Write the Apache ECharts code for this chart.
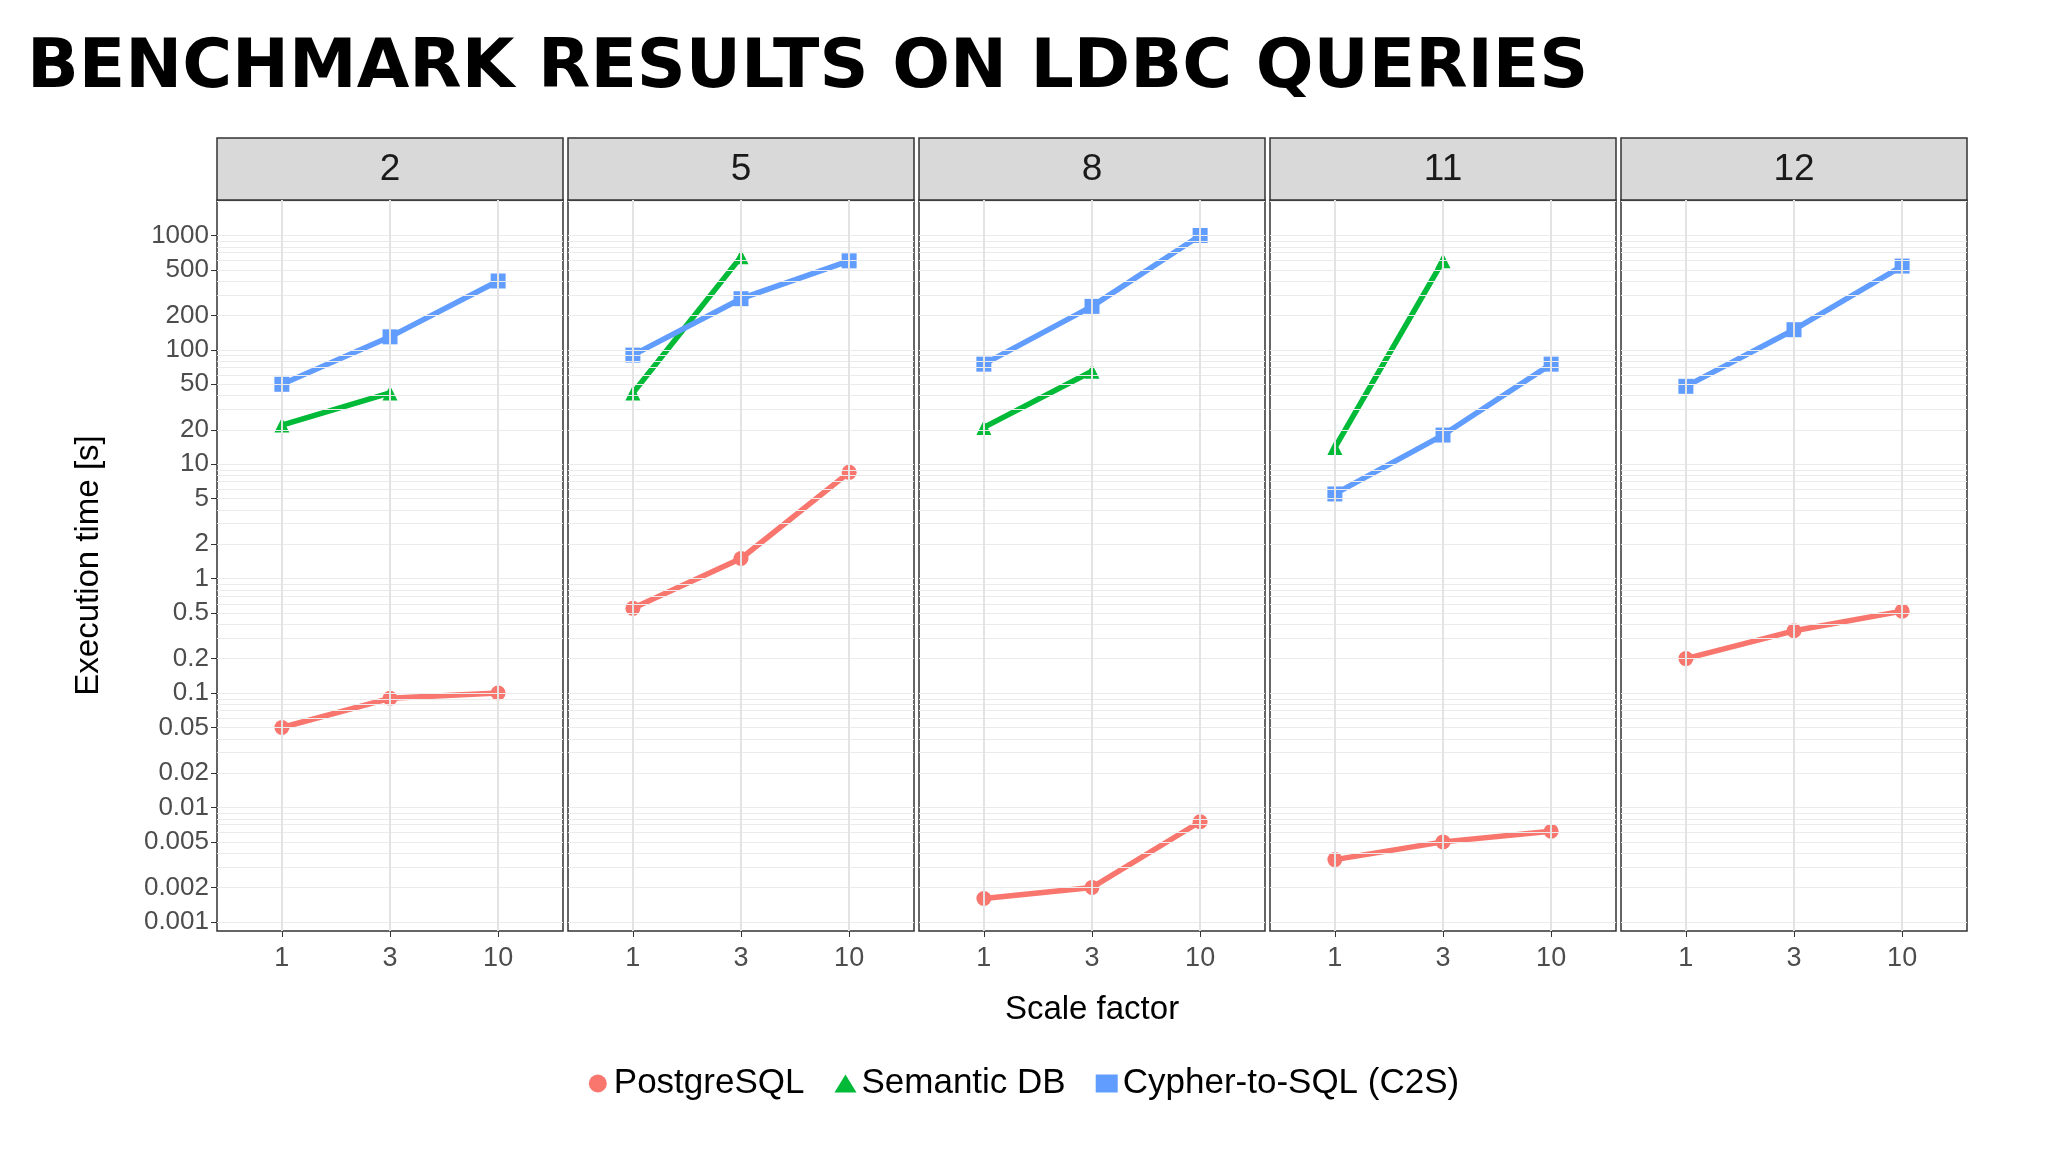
<!DOCTYPE html>
<html><head><meta charset="utf-8">
<script src="https://cdn.jsdelivr.net/npm/echarts@6/dist/echarts.min.js"></script>
<style>html,body{margin:0;background:#fff}#echarts{width:2048px;height:1152px}</style>
</head><body><div id="echarts"></div>
<script>
// data
var panels = ['2', '5', '8', '11', '12'];
var scaleFactors = ['1', '3', '10'];
var postgres = [[0.05, 0.09, 0.1], [0.55, 1.5, 8.5], [0.0016, 0.002, 0.0075], [0.0035, 0.005, 0.0062], [0.2, 0.35, 0.52]];
var semantic = [[22, 42, null], [42, 650, null], [21, 65, null], [14, 600, null], [null, null, null]];
var c2s = [[50, 130, 400], [90, 280, 600], [75, 240, 1000], [5.5, 18, 75], [48, 150, 540]];
var yTicks = [0.001, 0.002, 0.005, 0.01, 0.02, 0.05, 0.1, 0.2, 0.5, 1, 2, 5, 10, 20, 50, 100, 200, 500, 1000];

window.onload = function () {
    var lg = function (v) { return v == null ? null : Math.log10(v); };
    var idx = scaleFactors.map(function (s, j) { return j; });
    var minor = [];
    for (var k = -3; k <= 3; k++) for (var m = 1; m <= 9; m++) minor.push({yAxis: Math.log10(m * Math.pow(10, k))});
    idx.forEach(function (j) { minor.push({xAxis: j, lineStyle: {color: '#e3e3e3', width: 2}}); });
    var fmt = function (v) { return String(+Math.pow(10, v).toPrecision(2)); };

    var grids = [], xAxes = [], yAxes = [], series = [], graphics = [];
    var left0 = 217, step = 351, w = 346;
    panels.forEach(function (p, i) {
        var left = left0 + i * step;
        grids.push({left: left, top: 200, width: w, height: 731, show: true, borderColor: '#333', borderWidth: 1.5, backgroundColor: '#fff'});
        xAxes.push({
            gridIndex: i, type: 'value', min: -0.6, max: 2.6,
            axisLine: {show: false, onZero: false},
            axisTick: {show: true, customValues: idx, lineStyle: {color: '#333'}, length: 6},
            axisLabel: {customValues: idx, formatter: function (v) { return scaleFactors[Math.round(v)]; },
                fontSize: 27, color: '#4d4d4d', margin: 14, fontFamily: 'Liberation Sans'},
            splitLine: {show: false},
            name: i == 2 ? 'Scale factor' : '', nameLocation: 'middle', nameGap: 62,
            nameTextStyle: {fontSize: 33, color: '#000', fontFamily: 'Liberation Sans'}
        });
        yAxes.push({
            gridIndex: i, type: 'value', min: -3.08, max: 3.31,
            axisLine: {show: false, onZero: false},
            axisTick: {show: i == 0, customValues: yTicks.map(lg), lineStyle: {color: '#333'}, length: 6},
            axisLabel: {show: i == 0, customValues: yTicks.map(lg), formatter: fmt, fontSize: 26, color: '#4d4d4d', fontFamily: 'Liberation Sans'},
            splitLine: {show: false},
            name: i == 0 ? 'Execution time [s]' : '', nameLocation: 'middle', nameGap: 112, nameRotate: 90,
            nameTextStyle: {fontSize: 33, color: '#000', fontFamily: 'Liberation Sans'}
        });
        series.push({type: 'line', xAxisIndex: i, yAxisIndex: i, data: [], silent: true,
            markLine: {silent: true, symbol: 'none', label: {show: false}, lineStyle: {color: '#ebebeb', width: 1.2, type: 'solid'}, data: minor}, z: 1});
        var defs = [['PostgreSQL', postgres[i], '#F8766D', 'circle'], ['Semantic DB', semantic[i], '#00BA38', 'triangle'], ['Cypher-to-SQL (C2S)', c2s[i], '#619CFF', 'rect']];
        defs.forEach(function (d) {
            series.push({name: d[0], type: 'line', xAxisIndex: i, yAxisIndex: i,
                data: d[1].map(function (v, j) { return [j, lg(v)]; }),
                symbol: d[3], symbolSize: 15, showSymbol: true, connectNulls: false,
                lineStyle: {color: d[2], width: 5.5}, itemStyle: {color: d[2]}, z: 3});
        });
        graphics.push({type: 'rect', shape: {x: left, y: 138, width: w, height: 62},
            style: {fill: '#d9d9d9', stroke: '#333', lineWidth: 1.5}});
        graphics.push({type: 'text', x: left + w / 2, y: 170,
            style: {text: p, fontSize: 37, fill: '#1a1a1a', align: 'center', verticalAlign: 'middle', fontFamily: 'Liberation Sans'}});
    });

    var option = {
        backgroundColor: '#fff',
        animation: false,
        title: {text: 'BENCHMARK RESULTS ON LDBC QUERIES', left: 22, top: 30,
            textStyle: {fontSize: 68, fontWeight: 'bold', color: '#000', fontFamily: 'DejaVu Sans'}},
        legend: {bottom: 46, left: 'center', itemWidth: 22, itemHeight: 18, itemGap: 30,
            data: [{name: 'PostgreSQL', icon: 'circle'}, {name: 'Semantic DB', icon: 'triangle'}, {name: 'Cypher-to-SQL (C2S)', icon: 'rect'}],
            textStyle: {fontSize: 35, color: '#000', fontFamily: 'Liberation Sans'}},
        grid: grids, xAxis: xAxes, yAxis: yAxes, series: series, graphic: graphics
    };
    var mychart = echarts.init(document.getElementById('echarts'));
    mychart.setOption(option);
};
</script></body></html>
